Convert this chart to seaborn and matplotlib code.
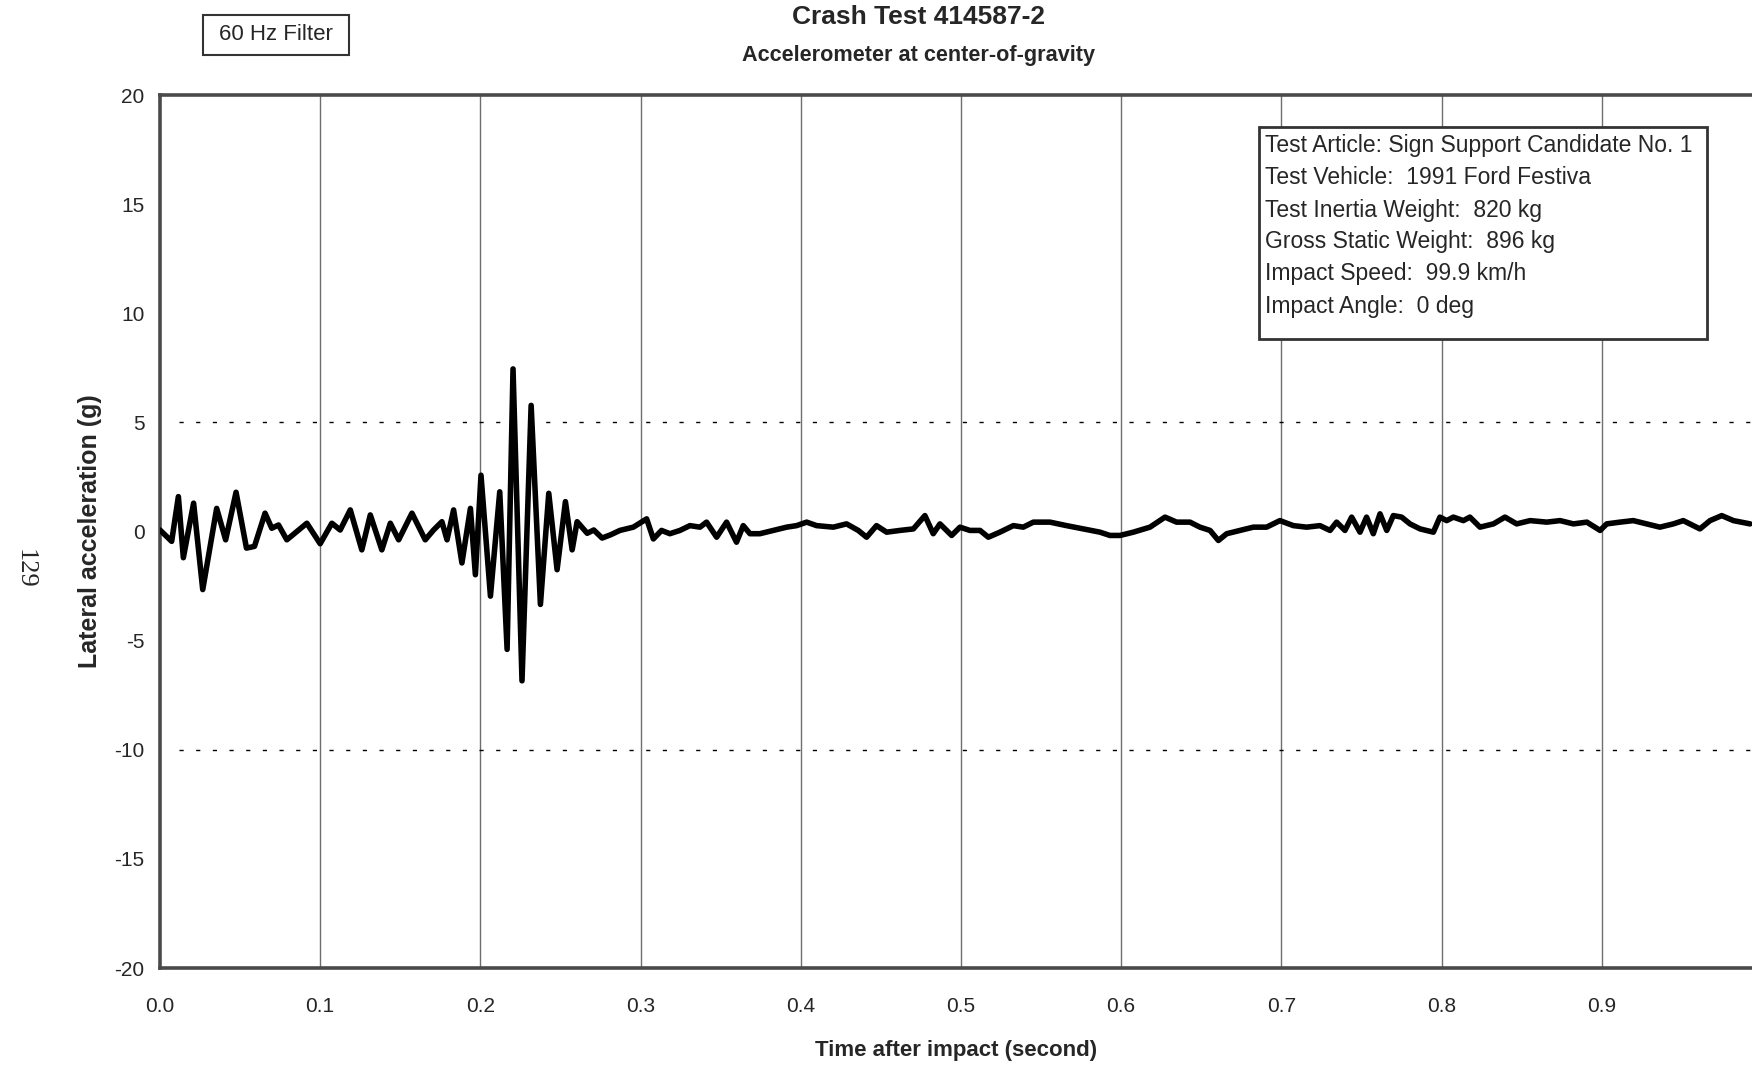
"""Crash Test 414587-2 - Querbeschleunigung am Schwerpunkt."""
import matplotlib
matplotlib.use("Agg")
import matplotlib.pyplot as plt
from matplotlib.patches import Rectangle
import seaborn as sns

# Daten
time_s = [
    0.000, 0.0073, 0.0115, 0.0146, 0.021, 0.0267, 0.0354, 0.041, 0.0475, 0.054,
    0.059, 0.0656, 0.0698, 0.074, 0.0792, 0.0854, 0.0917, 0.100, 0.1073, 0.1125,
    0.1188, 0.126, 0.1313, 0.1385, 0.1438, 0.149, 0.1573, 0.1625, 0.1656, 0.1708,
    0.176, 0.1792, 0.1833, 0.1885, 0.1938, 0.1969, 0.2004, 0.2063, 0.2121, 0.2167,
    0.2204, 0.2260, 0.2317, 0.2375, 0.2427, 0.2479, 0.2531, 0.2573, 0.2604, 0.2667,
    0.2708, 0.2760, 0.2813, 0.2871, 0.2955, 0.3038, 0.3080, 0.3131, 0.3183, 0.3246,
    0.3308, 0.3371, 0.3412, 0.3475, 0.3537, 0.3599, 0.3641, 0.3683, 0.3745, 0.3829,
    0.3912, 0.3974, 0.4037, 0.4099, 0.4203, 0.4286, 0.4359, 0.4411, 0.4473, 0.4536,
    0.4619, 0.4703, 0.4775, 0.4827, 0.4869, 0.4942, 0.4994, 0.5056, 0.5119, 0.5171,
    0.5243, 0.5327, 0.5389, 0.5452, 0.5556, 0.5659, 0.5764, 0.5868, 0.5930, 0.5993,
    0.6076, 0.6180, 0.6274, 0.6346, 0.6430, 0.6492, 0.6555, 0.6607, 0.6659, 0.6742,
    0.6825, 0.6908, 0.6991, 0.7075, 0.7158, 0.7241, 0.7304, 0.7345, 0.7397, 0.7439,
    0.7491, 0.7532, 0.7574, 0.7616, 0.7658, 0.7699, 0.7751, 0.7803, 0.7866, 0.7949,
    0.7990, 0.8032, 0.8074, 0.8136, 0.8177, 0.8240, 0.8324, 0.8396, 0.8469, 0.8553,
    0.8657, 0.8740, 0.8823, 0.8907, 0.8990, 0.9031, 0.9114, 0.9197, 0.9280, 0.9363,
    0.9447, 0.9509, 0.9613, 0.9676, 0.9749, 0.9822, 0.9926,
]
accel_g = [
    0.07, -0.45, 1.60, -1.20, 1.30, -2.66, 1.06, -0.38, 1.80, -0.76,
    -0.68, 0.84, 0.15, 0.30, -0.38, 0.00, 0.38, -0.56, 0.38, 0.07,
    0.99, -0.84, 0.76, -0.84, 0.38, -0.38, 0.84, 0.07, -0.38, 0.07,
    0.45, -0.38, 0.99, -1.44, 1.06, -1.98, 2.58, -2.96, 1.82, -5.40,
    7.45, -6.84, 5.78, -3.34, 1.75, -1.75, 1.37, -0.84, 0.45, -0.08,
    0.07, -0.30, -0.15, 0.05, 0.20, 0.58, -0.34, 0.05, -0.10, 0.05,
    0.27, 0.20, 0.43, -0.26, 0.43, -0.49, 0.27, -0.10, -0.10, 0.05,
    0.20, 0.27, 0.43, 0.27, 0.20, 0.35, 0.05, -0.26, 0.27, -0.03,
    0.05, 0.12, 0.73, -0.10, 0.35, -0.18, 0.20, 0.05, 0.05, -0.26,
    -0.03, 0.27, 0.20, 0.43, 0.43, 0.27, 0.12, -0.03, -0.18, -0.18,
    -0.03, 0.20, 0.66, 0.43, 0.43, 0.20, 0.05, -0.41, -0.10, 0.05,
    0.20, 0.20, 0.50, 0.27, 0.20, 0.27, 0.05, 0.43, 0.05, 0.66,
    -0.03, 0.66, -0.10, 0.81, 0.05, 0.73, 0.66, 0.35, 0.12, -0.03,
    0.66, 0.50, 0.66, 0.50, 0.66, 0.20, 0.35, 0.66, 0.35, 0.50,
    0.43, 0.50, 0.35, 0.43, 0.05, 0.35, 0.43, 0.50, 0.35, 0.20,
    0.35, 0.50, 0.12, 0.50, 0.73, 0.50, 0.35,
]

x_ticks = [0.0, 0.1, 0.2, 0.3, 0.4, 0.5, 0.6, 0.7, 0.8, 0.9]
y_ticks = [-20, -15, -10, -5, 0, 5, 10, 15, 20]
dotted_levels = [5, -10]

info_lines = [
    "Test Article: Sign Support Candidate No. 1",
    "Test Vehicle:  1991 Ford Festiva",
    "Test Inertia Weight:  820 kg",
    "Gross Static Weight:  896 kg",
    "Impact Speed:  99.9 km/h",
    "Impact Angle:  0 deg",
]

sns.set_style("white")
plt.rcParams["font.family"] = ["Liberation Sans", "DejaVu Sans"]
plt.rcParams["axes.unicode_minus"] = False

fig = plt.figure(figsize=(17.52, 10.70), dpi=100)
ax = fig.add_axes([0.0913, 0.0953, 0.9087, 0.8159])

# Gitter
for xt in x_ticks[1:]:
    ax.axvline(xt, color="#6e6e6e", lw=1.0, zorder=1)
for yl in dotted_levels:
    ax.axhline(yl, color="black", lw=1.0, ls=(0, (3, 9)), zorder=1,
               xmin=0.012)

sns.lineplot(x=time_s, y=accel_g, ax=ax, color="black", lw=4.0,
             solid_joinstyle="round", solid_capstyle="round", zorder=3)

ax.set_xlim(0, 0.9938)
ax.set_ylim(-20, 20)
ax.set_xticks(x_ticks)
ax.set_xticklabels([f"{t:.1f}" for t in x_ticks])
ax.set_yticks(y_ticks)
ax.tick_params(axis="x", length=0, pad=21, labelsize=15)
ax.tick_params(axis="y", length=0, pad=11, labelsize=15)

for side in ["top", "bottom", "left"]:
    ax.spines[side].set_color("#4a4a4a")
    ax.spines[side].set_linewidth(2.6)
ax.spines["right"].set_visible(False)

ax.set_xlabel("Time after impact (second)", fontsize=16, fontweight="bold")
ax.xaxis.set_label_coords(0.5, -0.082)
ax.set_ylabel("Lateral acceleration (g)", fontsize=18, fontweight="bold")
ax.yaxis.set_label_coords(-0.0364, 0.5)

# Titel
fig.text(0.524, 0.984, "Crash Test 414587-2", ha="center", va="center",
         fontsize=19, fontweight="bold")
fig.text(0.524, 0.9477, "Accelerometer at center-of-gravity", ha="center",
         va="center", fontsize=15.6, fontweight="bold")

# Filter-Kasten
fig.patches.append(Rectangle((0.1159, 0.9486), 0.0833, 0.0374,
                             transform=fig.transFigure, fill=False,
                             edgecolor="#333333", lw=1.5))
fig.text(0.1575, 0.9673, "60 Hz Filter", ha="center", va="center", fontsize=16)

# Info-Kasten
fig.patches.append(Rectangle((0.7186, 0.6832), 0.2557, 0.1981,
                             transform=fig.transFigure, facecolor="white",
                             edgecolor="#333333", lw=2.0, zorder=5))
line_y = [145.2, 177.7, 210.0, 241.3, 273.7, 306.1]
for txt, yp in zip(info_lines, line_y):
    fig.text(0.7222, 1 - yp / 1070, txt, ha="left", va="center",
             fontsize=16.5, zorder=6)

# Seitenzahl
fig.text(25 / 1752, 1 - 569 / 1070, "129", rotation=-90, ha="center",
         va="center", fontsize=19, family=["Liberation Serif", "DejaVu Serif"])

fig.savefig("out.png", dpi=100)
plt.close(fig)
